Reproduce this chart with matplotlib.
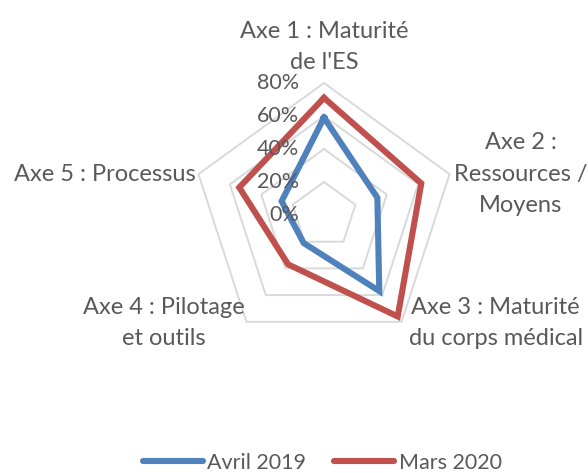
import numpy as np
import matplotlib
matplotlib.use("Agg")
import matplotlib.pyplot as plt
from matplotlib.lines import Line2D

categories = ["Axe 1 : Maturité\nde l'ES", "Axe 2 :\nRessources /\nMoyens",
              "Axe 3 : Maturité\ndu corps médical", "Axe 4 : Pilotage\net outils",
              "Axe 5 : Processus"]
avril_2019 = [59, 34, 57, 21, 27]
mars_2020 = [71, 62, 76, 37, 54]
ring_values = [20, 40, 60, 80]
tick_labels = ["0%", "20%", "40%", "60%", "80%"]
tick_values = [0, 20, 40, 60, 80]

FONT = "Lato"
TXT = "#595959"
BLUE = "#4f81bd"
RED = "#c0504d"
GRID = "#d9d9d9"

fig = plt.figure(figsize=(5.88, 4.73), dpi=100)
cx, cy, R = 324, 215, 132
W, H = 588, 473
ax = fig.add_axes([(cx - R) / W, (H - cy - R) / H, 2 * R / W, 2 * R / H], projection="polar")
ax.set_theta_offset(np.pi / 2)
ax.set_theta_direction(-1)
ax.set_ylim(0, 80)
ax.grid(False)
ax.set_xticks([])
ax.set_yticks([])
ax.spines["polar"].set_visible(False)
ax.patch.set_alpha(0)

n = len(categories)
theta = np.linspace(0, 2 * np.pi, n, endpoint=False)
theta_c = np.append(theta, theta[0])

for rv in ring_values:
    ax.plot(theta_c, [rv] * (n + 1), color=GRID, lw=1.4, zorder=1, clip_on=False)

for vals, col in [(avril_2019, BLUE), (mars_2020, RED)]:
    v = np.append(vals, vals[0])
    ax.plot(theta_c, v, color=col, lw=4.4, solid_joinstyle="miter", zorder=3, clip_on=False)

# radial tick labels
for tv, tl in zip(tick_values, tick_labels):
    ax.annotate(tl, xy=(0, tv), xytext=(-18, 0), textcoords="offset points",
                ha="right", va="center", fontsize=15.5, color=TXT, family=FONT,
                annotation_clip=False, zorder=4)

# category labels
offsets = [((0, 7), "center", "bottom"), ((3, 0), "left", "center"),
           ((5, -1), "left", "center"), ((-1, -1), "right", "center"),
           ((-2, 0), "right", "center")]
for th, lab, (off, ha, va) in zip(theta, categories, offsets):
    ax.annotate(lab, xy=(th, 80), xytext=off, textcoords="offset points",
                ha=ha, va=va, multialignment="center", fontsize=17, color=TXT,
                family=FONT, annotation_clip=False, linespacing=1.62)

handles = [Line2D([], [], color=BLUE, lw=4.4, solid_capstyle="round"),
           Line2D([], [], color=RED, lw=4.4, solid_capstyle="round")]
leg = fig.legend(handles, ["Avril 2019", "Mars 2020"], loc="center",
                 bbox_to_anchor=(0.548, 1 - 463 / H), ncol=2, frameon=False,
                 prop={"family": FONT, "size": 15.5}, handlelength=2.8,
                 handletextpad=0.2, columnspacing=1.3)
for t in leg.get_texts():
    t.set_color(TXT)

fig.savefig("out.png", dpi=100)
